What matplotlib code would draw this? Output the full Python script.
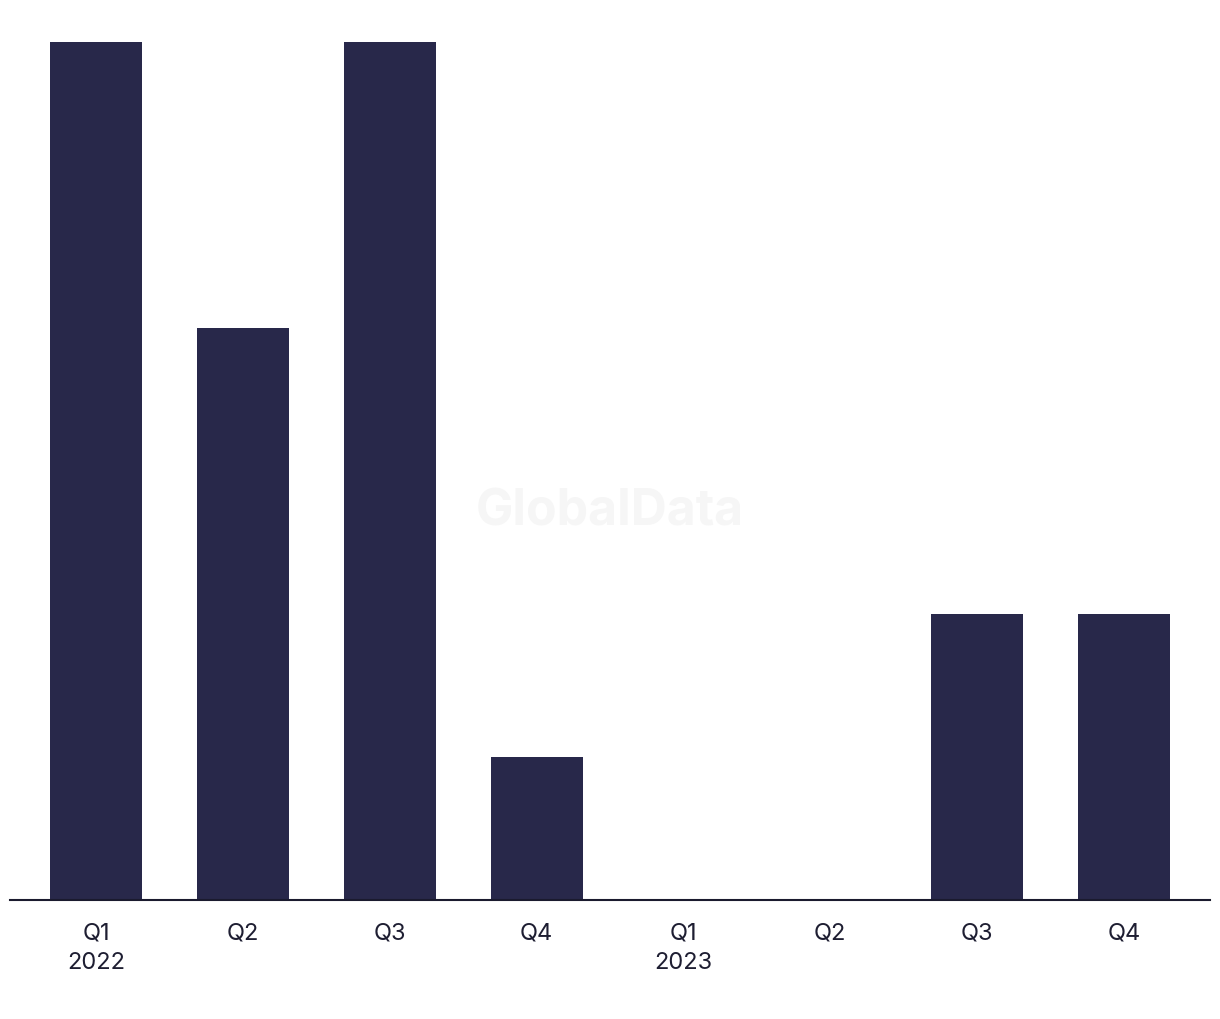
import matplotlib
matplotlib.use('Agg')
import matplotlib.pyplot as plt

# Quarterly counts
quarters = ['Q1\n2022', 'Q2', 'Q3', 'Q4', 'Q1\n2023', 'Q2', 'Q3', 'Q4']
values = [6, 4, 6, 1, 0, 0, 2, 2]

plt.rcParams['font.family'] = ['Inter', 'DejaVu Sans']

fig = plt.figure(figsize=(12.2, 10.2), dpi=100)
ax = fig.add_axes([10 / 1220, 1 - 900.5 / 1020, 1200 / 1220, 858 / 1020])

x = list(range(len(values)))
ax.bar(x, values, width=0.626, color='#28284a', zorder=2)

ax.set_xlim(-0.586, len(values) - 1 + 0.586)
ax.set_ylim(0, 6)
ax.set_xticks(x)
ax.set_xticklabels(quarters, fontsize=17, color='#1e1e32', linespacing=1.45)
ax.tick_params(axis='x', length=0, pad=15.5)
ax.set_yticks([])

for side in ['top', 'right', 'left']:
    ax.spines[side].set_visible(False)
ax.spines['bottom'].set_color('#1a1a2e')
ax.spines['bottom'].set_linewidth(1.5)

# faint watermark
fig.text(610 / 1220, 1 - 512 / 1020, 'GlobalData', fontsize=36, fontweight='bold',
         color='#f6f6f6', ha='center', va='center', zorder=0)

fig.savefig('out.png', dpi=100)
